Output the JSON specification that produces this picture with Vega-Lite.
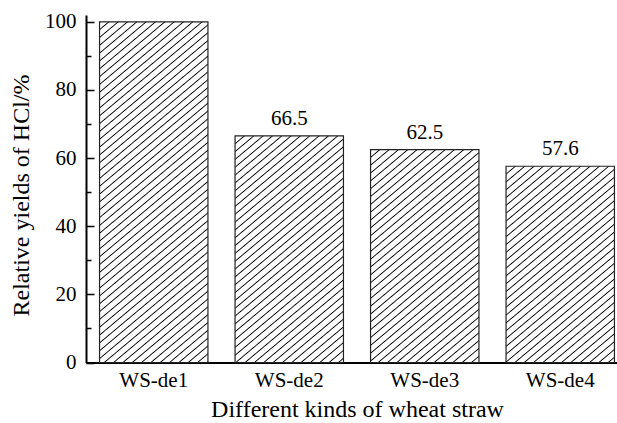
{
 "$schema": "https://vega.github.io/schema/vega-lite/v6.json",
 "width": 531, "height": 347.5,
 "autosize": {"type": "none"},
 "padding": {"left": 86, "top": 15, "right": 0, "bottom": 60.5},
 "background": "white",
 "config": {"view": {"stroke": null}, "font": "Liberation Serif",
   "axis": {"labelFont": "Liberation Serif", "titleFont": "Liberation Serif"},
   "text": {"font": "Liberation Serif"}},
 "data": {"values": [
   {"kind": "WS-de1", "yield": 100},
   {"kind": "WS-de2", "yield": 66.5},
   {"kind": "WS-de3", "yield": 62.5},
   {"kind": "WS-de4", "yield": 57.6}
 ]},
 "resolve": {"axis": {"y": "independent"}},
 "encoding": {
   "x": {"field": "kind", "type": "nominal", "sort": null,
     "scale": {"range": [0, 542], "paddingInner": 0.2, "paddingOuter": 0.1},
     "axis": {"title": "Different kinds of wheat straw", "labelAngle": 0, "labelFontSize": 21, "labelColor": "#000", "labelPadding": 7, "tickSize": 0, "domainColor": "#000", "domainWidth": 2, "titleFontSize": 24, "titleFontWeight": "normal", "titleColor": "#000", "titlePadding": 7}}
 },
 "layer": [
   {"mark": {"type": "bar", "stroke": "#222", "strokeWidth": 1.2},
    "encoding": {
     "y": {"field": "yield", "type": "quantitative",
       "scale": {"domain": [0, 102], "nice": false},
       "axis": {"title": "Relative yields of HCl/%", "values": [0,20,40,60,80,100], "grid": false,
         "tickSize": -8, "tickColor": "#000", "tickWidth": 1.5, "domainColor": "#000", "domainWidth": 2,
         "labelFontSize": 21, "labelColor": "#000", "labelPadding": 18,
         "titleFontSize": 24, "titleFontWeight": "normal", "titleColor": "#000", "titlePadding": 11, "titleY": 180}},
     "fill": {"condition": [
      {"test": "datum.kind === 'WS-de1'", "value": {"gradient": "linear", "x1": 0, "y1": 0, "x2": 0.5731, "y2": 2.1459, "stops": [
{"offset":0,"color":"#fff"},
{"offset":0.0085,"color":"#fff"},{"offset":0.01,"color":"#000"},{"offset":0.0115,"color":"#fff"},
{"offset":0.0185,"color":"#fff"},{"offset":0.02,"color":"#000"},{"offset":0.0215,"color":"#fff"},
{"offset":0.0285,"color":"#fff"},{"offset":0.03,"color":"#000"},{"offset":0.0315,"color":"#fff"},
{"offset":0.0385,"color":"#fff"},{"offset":0.04,"color":"#000"},{"offset":0.0415,"color":"#fff"},
{"offset":0.0485,"color":"#fff"},{"offset":0.05,"color":"#000"},{"offset":0.0515,"color":"#fff"},
{"offset":0.0585,"color":"#fff"},{"offset":0.06,"color":"#000"},{"offset":0.0615,"color":"#fff"},
{"offset":0.0685,"color":"#fff"},{"offset":0.07,"color":"#000"},{"offset":0.0715,"color":"#fff"},
{"offset":0.0785,"color":"#fff"},{"offset":0.08,"color":"#000"},{"offset":0.0815,"color":"#fff"},
{"offset":0.0885,"color":"#fff"},{"offset":0.09,"color":"#000"},{"offset":0.0915,"color":"#fff"},
{"offset":0.0985,"color":"#fff"},{"offset":0.10,"color":"#000"},{"offset":0.1015,"color":"#fff"},
{"offset":0.1085,"color":"#fff"},{"offset":0.11,"color":"#000"},{"offset":0.1115,"color":"#fff"},
{"offset":0.1185,"color":"#fff"},{"offset":0.12,"color":"#000"},{"offset":0.1215,"color":"#fff"},
{"offset":0.1285,"color":"#fff"},{"offset":0.13,"color":"#000"},{"offset":0.1315,"color":"#fff"},
{"offset":0.1385,"color":"#fff"},{"offset":0.14,"color":"#000"},{"offset":0.1415,"color":"#fff"},
{"offset":0.1485,"color":"#fff"},{"offset":0.15,"color":"#000"},{"offset":0.1515,"color":"#fff"},
{"offset":0.1585,"color":"#fff"},{"offset":0.16,"color":"#000"},{"offset":0.1615,"color":"#fff"},
{"offset":0.1685,"color":"#fff"},{"offset":0.17,"color":"#000"},{"offset":0.1715,"color":"#fff"},
{"offset":0.1785,"color":"#fff"},{"offset":0.18,"color":"#000"},{"offset":0.1815,"color":"#fff"},
{"offset":0.1885,"color":"#fff"},{"offset":0.19,"color":"#000"},{"offset":0.1915,"color":"#fff"},
{"offset":0.1985,"color":"#fff"},{"offset":0.20,"color":"#000"},{"offset":0.2015,"color":"#fff"},
{"offset":0.2085,"color":"#fff"},{"offset":0.21,"color":"#000"},{"offset":0.2115,"color":"#fff"},
{"offset":0.2185,"color":"#fff"},{"offset":0.22,"color":"#000"},{"offset":0.2215,"color":"#fff"},
{"offset":0.2285,"color":"#fff"},{"offset":0.23,"color":"#000"},{"offset":0.2315,"color":"#fff"},
{"offset":0.2385,"color":"#fff"},{"offset":0.24,"color":"#000"},{"offset":0.2415,"color":"#fff"},
{"offset":0.2485,"color":"#fff"},{"offset":0.25,"color":"#000"},{"offset":0.2515,"color":"#fff"},
{"offset":0.2585,"color":"#fff"},{"offset":0.26,"color":"#000"},{"offset":0.2615,"color":"#fff"},
{"offset":0.2685,"color":"#fff"},{"offset":0.27,"color":"#000"},{"offset":0.2715,"color":"#fff"},
{"offset":0.2785,"color":"#fff"},{"offset":0.28,"color":"#000"},{"offset":0.2815,"color":"#fff"},
{"offset":0.2885,"color":"#fff"},{"offset":0.29,"color":"#000"},{"offset":0.2915,"color":"#fff"},
{"offset":0.2985,"color":"#fff"},{"offset":0.30,"color":"#000"},{"offset":0.3015,"color":"#fff"},
{"offset":0.3085,"color":"#fff"},{"offset":0.31,"color":"#000"},{"offset":0.3115,"color":"#fff"},
{"offset":0.3185,"color":"#fff"},{"offset":0.32,"color":"#000"},{"offset":0.3215,"color":"#fff"},
{"offset":0.3285,"color":"#fff"},{"offset":0.33,"color":"#000"},{"offset":0.3315,"color":"#fff"},
{"offset":0.3385,"color":"#fff"},{"offset":0.34,"color":"#000"},{"offset":0.3415,"color":"#fff"},
{"offset":0.3485,"color":"#fff"},{"offset":0.35,"color":"#000"},{"offset":0.3515,"color":"#fff"},
{"offset":0.3585,"color":"#fff"},{"offset":0.36,"color":"#000"},{"offset":0.3615,"color":"#fff"},
{"offset":0.3685,"color":"#fff"},{"offset":0.37,"color":"#000"},{"offset":0.3715,"color":"#fff"},
{"offset":0.3785,"color":"#fff"},{"offset":0.38,"color":"#000"},{"offset":0.3815,"color":"#fff"},
{"offset":0.3885,"color":"#fff"},{"offset":0.39,"color":"#000"},{"offset":0.3915,"color":"#fff"},
{"offset":0.3985,"color":"#fff"},{"offset":0.40,"color":"#000"},{"offset":0.4015,"color":"#fff"},
{"offset":0.4085,"color":"#fff"},{"offset":0.41,"color":"#000"},{"offset":0.4115,"color":"#fff"},
{"offset":0.4185,"color":"#fff"},{"offset":0.42,"color":"#000"},{"offset":0.4215,"color":"#fff"},
{"offset":0.4285,"color":"#fff"},{"offset":0.43,"color":"#000"},{"offset":0.4315,"color":"#fff"},
{"offset":0.4385,"color":"#fff"},{"offset":0.44,"color":"#000"},{"offset":0.4415,"color":"#fff"},
{"offset":0.4485,"color":"#fff"},{"offset":0.45,"color":"#000"},{"offset":0.4515,"color":"#fff"},
{"offset":0.4585,"color":"#fff"},{"offset":0.46,"color":"#000"},{"offset":0.4615,"color":"#fff"},
{"offset":0.4685,"color":"#fff"},{"offset":0.47,"color":"#000"},{"offset":0.4715,"color":"#fff"},
{"offset":0.4785,"color":"#fff"},{"offset":0.48,"color":"#000"},{"offset":0.4815,"color":"#fff"},
{"offset":0.4885,"color":"#fff"},{"offset":0.49,"color":"#000"},{"offset":0.4915,"color":"#fff"},
{"offset":0.4985,"color":"#fff"},{"offset":0.50,"color":"#000"},{"offset":0.5015,"color":"#fff"},
{"offset":0.5085,"color":"#fff"},{"offset":0.51,"color":"#000"},{"offset":0.5115,"color":"#fff"},
{"offset":0.5185,"color":"#fff"},{"offset":0.52,"color":"#000"},{"offset":0.5215,"color":"#fff"},
{"offset":0.5285,"color":"#fff"},{"offset":0.53,"color":"#000"},{"offset":0.5315,"color":"#fff"},
{"offset":0.5385,"color":"#fff"},{"offset":0.54,"color":"#000"},{"offset":0.5415,"color":"#fff"},
{"offset":0.5485,"color":"#fff"},{"offset":0.55,"color":"#000"},{"offset":0.5515,"color":"#fff"},
{"offset":1,"color":"#fff"}]}},
      {"test": "datum.kind === 'WS-de2'", "value": {"gradient": "linear", "x1": 0, "y1": 0, "x2": 1.1956, "y2": 2.9770, "stops": [
{"offset":0,"color":"#fff"},
{"offset":0.0085,"color":"#fff"},{"offset":0.01,"color":"#000"},{"offset":0.0115,"color":"#fff"},
{"offset":0.0185,"color":"#fff"},{"offset":0.02,"color":"#000"},{"offset":0.0215,"color":"#fff"},
{"offset":0.0285,"color":"#fff"},{"offset":0.03,"color":"#000"},{"offset":0.0315,"color":"#fff"},
{"offset":0.0385,"color":"#fff"},{"offset":0.04,"color":"#000"},{"offset":0.0415,"color":"#fff"},
{"offset":0.0485,"color":"#fff"},{"offset":0.05,"color":"#000"},{"offset":0.0515,"color":"#fff"},
{"offset":0.0585,"color":"#fff"},{"offset":0.06,"color":"#000"},{"offset":0.0615,"color":"#fff"},
{"offset":0.0685,"color":"#fff"},{"offset":0.07,"color":"#000"},{"offset":0.0715,"color":"#fff"},
{"offset":0.0785,"color":"#fff"},{"offset":0.08,"color":"#000"},{"offset":0.0815,"color":"#fff"},
{"offset":0.0885,"color":"#fff"},{"offset":0.09,"color":"#000"},{"offset":0.0915,"color":"#fff"},
{"offset":0.0985,"color":"#fff"},{"offset":0.10,"color":"#000"},{"offset":0.1015,"color":"#fff"},
{"offset":0.1085,"color":"#fff"},{"offset":0.11,"color":"#000"},{"offset":0.1115,"color":"#fff"},
{"offset":0.1185,"color":"#fff"},{"offset":0.12,"color":"#000"},{"offset":0.1215,"color":"#fff"},
{"offset":0.1285,"color":"#fff"},{"offset":0.13,"color":"#000"},{"offset":0.1315,"color":"#fff"},
{"offset":0.1385,"color":"#fff"},{"offset":0.14,"color":"#000"},{"offset":0.1415,"color":"#fff"},
{"offset":0.1485,"color":"#fff"},{"offset":0.15,"color":"#000"},{"offset":0.1515,"color":"#fff"},
{"offset":0.1585,"color":"#fff"},{"offset":0.16,"color":"#000"},{"offset":0.1615,"color":"#fff"},
{"offset":0.1685,"color":"#fff"},{"offset":0.17,"color":"#000"},{"offset":0.1715,"color":"#fff"},
{"offset":0.1785,"color":"#fff"},{"offset":0.18,"color":"#000"},{"offset":0.1815,"color":"#fff"},
{"offset":0.1885,"color":"#fff"},{"offset":0.19,"color":"#000"},{"offset":0.1915,"color":"#fff"},
{"offset":0.1985,"color":"#fff"},{"offset":0.20,"color":"#000"},{"offset":0.2015,"color":"#fff"},
{"offset":0.2085,"color":"#fff"},{"offset":0.21,"color":"#000"},{"offset":0.2115,"color":"#fff"},
{"offset":0.2185,"color":"#fff"},{"offset":0.22,"color":"#000"},{"offset":0.2215,"color":"#fff"},
{"offset":0.2285,"color":"#fff"},{"offset":0.23,"color":"#000"},{"offset":0.2315,"color":"#fff"},
{"offset":0.2385,"color":"#fff"},{"offset":0.24,"color":"#000"},{"offset":0.2415,"color":"#fff"},
{"offset":0.2485,"color":"#fff"},{"offset":0.25,"color":"#000"},{"offset":0.2515,"color":"#fff"},
{"offset":0.2585,"color":"#fff"},{"offset":0.26,"color":"#000"},{"offset":0.2615,"color":"#fff"},
{"offset":0.2685,"color":"#fff"},{"offset":0.27,"color":"#000"},{"offset":0.2715,"color":"#fff"},
{"offset":0.2785,"color":"#fff"},{"offset":0.28,"color":"#000"},{"offset":0.2815,"color":"#fff"},
{"offset":0.2885,"color":"#fff"},{"offset":0.29,"color":"#000"},{"offset":0.2915,"color":"#fff"},
{"offset":0.2985,"color":"#fff"},{"offset":0.30,"color":"#000"},{"offset":0.3015,"color":"#fff"},
{"offset":0.3085,"color":"#fff"},{"offset":0.31,"color":"#000"},{"offset":0.3115,"color":"#fff"},
{"offset":0.3185,"color":"#fff"},{"offset":0.32,"color":"#000"},{"offset":0.3215,"color":"#fff"},
{"offset":0.3285,"color":"#fff"},{"offset":0.33,"color":"#000"},{"offset":0.3315,"color":"#fff"},
{"offset":0.3385,"color":"#fff"},{"offset":0.34,"color":"#000"},{"offset":0.3415,"color":"#fff"},
{"offset":0.3485,"color":"#fff"},{"offset":0.35,"color":"#000"},{"offset":0.3515,"color":"#fff"},
{"offset":0.3585,"color":"#fff"},{"offset":0.36,"color":"#000"},{"offset":0.3615,"color":"#fff"},
{"offset":0.3685,"color":"#fff"},{"offset":0.37,"color":"#000"},{"offset":0.3715,"color":"#fff"},
{"offset":0.3785,"color":"#fff"},{"offset":0.38,"color":"#000"},{"offset":0.3815,"color":"#fff"},
{"offset":0.3885,"color":"#fff"},{"offset":0.39,"color":"#000"},{"offset":0.3915,"color":"#fff"},
{"offset":0.3985,"color":"#fff"},{"offset":0.40,"color":"#000"},{"offset":0.4015,"color":"#fff"},
{"offset":0.4085,"color":"#fff"},{"offset":0.41,"color":"#000"},{"offset":0.4115,"color":"#fff"},
{"offset":1,"color":"#fff"}]}},
      {"test": "datum.kind === 'WS-de3'", "value": {"gradient": "linear", "x1": 0, "y1": 0, "x2": 1.3293, "y2": 3.1106, "stops": [
{"offset":0,"color":"#fff"},
{"offset":0.0085,"color":"#fff"},{"offset":0.01,"color":"#000"},{"offset":0.0115,"color":"#fff"},
{"offset":0.0185,"color":"#fff"},{"offset":0.02,"color":"#000"},{"offset":0.0215,"color":"#fff"},
{"offset":0.0285,"color":"#fff"},{"offset":0.03,"color":"#000"},{"offset":0.0315,"color":"#fff"},
{"offset":0.0385,"color":"#fff"},{"offset":0.04,"color":"#000"},{"offset":0.0415,"color":"#fff"},
{"offset":0.0485,"color":"#fff"},{"offset":0.05,"color":"#000"},{"offset":0.0515,"color":"#fff"},
{"offset":0.0585,"color":"#fff"},{"offset":0.06,"color":"#000"},{"offset":0.0615,"color":"#fff"},
{"offset":0.0685,"color":"#fff"},{"offset":0.07,"color":"#000"},{"offset":0.0715,"color":"#fff"},
{"offset":0.0785,"color":"#fff"},{"offset":0.08,"color":"#000"},{"offset":0.0815,"color":"#fff"},
{"offset":0.0885,"color":"#fff"},{"offset":0.09,"color":"#000"},{"offset":0.0915,"color":"#fff"},
{"offset":0.0985,"color":"#fff"},{"offset":0.10,"color":"#000"},{"offset":0.1015,"color":"#fff"},
{"offset":0.1085,"color":"#fff"},{"offset":0.11,"color":"#000"},{"offset":0.1115,"color":"#fff"},
{"offset":0.1185,"color":"#fff"},{"offset":0.12,"color":"#000"},{"offset":0.1215,"color":"#fff"},
{"offset":0.1285,"color":"#fff"},{"offset":0.13,"color":"#000"},{"offset":0.1315,"color":"#fff"},
{"offset":0.1385,"color":"#fff"},{"offset":0.14,"color":"#000"},{"offset":0.1415,"color":"#fff"},
{"offset":0.1485,"color":"#fff"},{"offset":0.15,"color":"#000"},{"offset":0.1515,"color":"#fff"},
{"offset":0.1585,"color":"#fff"},{"offset":0.16,"color":"#000"},{"offset":0.1615,"color":"#fff"},
{"offset":0.1685,"color":"#fff"},{"offset":0.17,"color":"#000"},{"offset":0.1715,"color":"#fff"},
{"offset":0.1785,"color":"#fff"},{"offset":0.18,"color":"#000"},{"offset":0.1815,"color":"#fff"},
{"offset":0.1885,"color":"#fff"},{"offset":0.19,"color":"#000"},{"offset":0.1915,"color":"#fff"},
{"offset":0.1985,"color":"#fff"},{"offset":0.20,"color":"#000"},{"offset":0.2015,"color":"#fff"},
{"offset":0.2085,"color":"#fff"},{"offset":0.21,"color":"#000"},{"offset":0.2115,"color":"#fff"},
{"offset":0.2185,"color":"#fff"},{"offset":0.22,"color":"#000"},{"offset":0.2215,"color":"#fff"},
{"offset":0.2285,"color":"#fff"},{"offset":0.23,"color":"#000"},{"offset":0.2315,"color":"#fff"},
{"offset":0.2385,"color":"#fff"},{"offset":0.24,"color":"#000"},{"offset":0.2415,"color":"#fff"},
{"offset":0.2485,"color":"#fff"},{"offset":0.25,"color":"#000"},{"offset":0.2515,"color":"#fff"},
{"offset":0.2585,"color":"#fff"},{"offset":0.26,"color":"#000"},{"offset":0.2615,"color":"#fff"},
{"offset":0.2685,"color":"#fff"},{"offset":0.27,"color":"#000"},{"offset":0.2715,"color":"#fff"},
{"offset":0.2785,"color":"#fff"},{"offset":0.28,"color":"#000"},{"offset":0.2815,"color":"#fff"},
{"offset":0.2885,"color":"#fff"},{"offset":0.29,"color":"#000"},{"offset":0.2915,"color":"#fff"},
{"offset":0.2985,"color":"#fff"},{"offset":0.30,"color":"#000"},{"offset":0.3015,"color":"#fff"},
{"offset":0.3085,"color":"#fff"},{"offset":0.31,"color":"#000"},{"offset":0.3115,"color":"#fff"},
{"offset":0.3185,"color":"#fff"},{"offset":0.32,"color":"#000"},{"offset":0.3215,"color":"#fff"},
{"offset":0.3285,"color":"#fff"},{"offset":0.33,"color":"#000"},{"offset":0.3315,"color":"#fff"},
{"offset":0.3385,"color":"#fff"},{"offset":0.34,"color":"#000"},{"offset":0.3415,"color":"#fff"},
{"offset":0.3485,"color":"#fff"},{"offset":0.35,"color":"#000"},{"offset":0.3515,"color":"#fff"},
{"offset":0.3585,"color":"#fff"},{"offset":0.36,"color":"#000"},{"offset":0.3615,"color":"#fff"},
{"offset":0.3685,"color":"#fff"},{"offset":0.37,"color":"#000"},{"offset":0.3715,"color":"#fff"},
{"offset":0.3785,"color":"#fff"},{"offset":0.38,"color":"#000"},{"offset":0.3815,"color":"#fff"},
{"offset":0.3885,"color":"#fff"},{"offset":0.39,"color":"#000"},{"offset":0.3915,"color":"#fff"},
{"offset":1,"color":"#fff"}]}},
      {"test": "datum.kind === 'WS-de4'", "value": {"gradient": "linear", "x1": 0, "y1": 0, "x2": 1.5233, "y2": 3.2852, "stops": [
{"offset":0,"color":"#fff"},
{"offset":0.0085,"color":"#fff"},{"offset":0.01,"color":"#000"},{"offset":0.0115,"color":"#fff"},
{"offset":0.0185,"color":"#fff"},{"offset":0.02,"color":"#000"},{"offset":0.0215,"color":"#fff"},
{"offset":0.0285,"color":"#fff"},{"offset":0.03,"color":"#000"},{"offset":0.0315,"color":"#fff"},
{"offset":0.0385,"color":"#fff"},{"offset":0.04,"color":"#000"},{"offset":0.0415,"color":"#fff"},
{"offset":0.0485,"color":"#fff"},{"offset":0.05,"color":"#000"},{"offset":0.0515,"color":"#fff"},
{"offset":0.0585,"color":"#fff"},{"offset":0.06,"color":"#000"},{"offset":0.0615,"color":"#fff"},
{"offset":0.0685,"color":"#fff"},{"offset":0.07,"color":"#000"},{"offset":0.0715,"color":"#fff"},
{"offset":0.0785,"color":"#fff"},{"offset":0.08,"color":"#000"},{"offset":0.0815,"color":"#fff"},
{"offset":0.0885,"color":"#fff"},{"offset":0.09,"color":"#000"},{"offset":0.0915,"color":"#fff"},
{"offset":0.0985,"color":"#fff"},{"offset":0.10,"color":"#000"},{"offset":0.1015,"color":"#fff"},
{"offset":0.1085,"color":"#fff"},{"offset":0.11,"color":"#000"},{"offset":0.1115,"color":"#fff"},
{"offset":0.1185,"color":"#fff"},{"offset":0.12,"color":"#000"},{"offset":0.1215,"color":"#fff"},
{"offset":0.1285,"color":"#fff"},{"offset":0.13,"color":"#000"},{"offset":0.1315,"color":"#fff"},
{"offset":0.1385,"color":"#fff"},{"offset":0.14,"color":"#000"},{"offset":0.1415,"color":"#fff"},
{"offset":0.1485,"color":"#fff"},{"offset":0.15,"color":"#000"},{"offset":0.1515,"color":"#fff"},
{"offset":0.1585,"color":"#fff"},{"offset":0.16,"color":"#000"},{"offset":0.1615,"color":"#fff"},
{"offset":0.1685,"color":"#fff"},{"offset":0.17,"color":"#000"},{"offset":0.1715,"color":"#fff"},
{"offset":0.1785,"color":"#fff"},{"offset":0.18,"color":"#000"},{"offset":0.1815,"color":"#fff"},
{"offset":0.1885,"color":"#fff"},{"offset":0.19,"color":"#000"},{"offset":0.1915,"color":"#fff"},
{"offset":0.1985,"color":"#fff"},{"offset":0.20,"color":"#000"},{"offset":0.2015,"color":"#fff"},
{"offset":0.2085,"color":"#fff"},{"offset":0.21,"color":"#000"},{"offset":0.2115,"color":"#fff"},
{"offset":0.2185,"color":"#fff"},{"offset":0.22,"color":"#000"},{"offset":0.2215,"color":"#fff"},
{"offset":0.2285,"color":"#fff"},{"offset":0.23,"color":"#000"},{"offset":0.2315,"color":"#fff"},
{"offset":0.2385,"color":"#fff"},{"offset":0.24,"color":"#000"},{"offset":0.2415,"color":"#fff"},
{"offset":0.2485,"color":"#fff"},{"offset":0.25,"color":"#000"},{"offset":0.2515,"color":"#fff"},
{"offset":0.2585,"color":"#fff"},{"offset":0.26,"color":"#000"},{"offset":0.2615,"color":"#fff"},
{"offset":0.2685,"color":"#fff"},{"offset":0.27,"color":"#000"},{"offset":0.2715,"color":"#fff"},
{"offset":0.2785,"color":"#fff"},{"offset":0.28,"color":"#000"},{"offset":0.2815,"color":"#fff"},
{"offset":0.2885,"color":"#fff"},{"offset":0.29,"color":"#000"},{"offset":0.2915,"color":"#fff"},
{"offset":0.2985,"color":"#fff"},{"offset":0.30,"color":"#000"},{"offset":0.3015,"color":"#fff"},
{"offset":0.3085,"color":"#fff"},{"offset":0.31,"color":"#000"},{"offset":0.3115,"color":"#fff"},
{"offset":0.3185,"color":"#fff"},{"offset":0.32,"color":"#000"},{"offset":0.3215,"color":"#fff"},
{"offset":0.3285,"color":"#fff"},{"offset":0.33,"color":"#000"},{"offset":0.3315,"color":"#fff"},
{"offset":0.3385,"color":"#fff"},{"offset":0.34,"color":"#000"},{"offset":0.3415,"color":"#fff"},
{"offset":0.3485,"color":"#fff"},{"offset":0.35,"color":"#000"},{"offset":0.3515,"color":"#fff"},
{"offset":0.3585,"color":"#fff"},{"offset":0.36,"color":"#000"},{"offset":0.3615,"color":"#fff"},
{"offset":0.3685,"color":"#fff"},{"offset":0.37,"color":"#000"},{"offset":0.3715,"color":"#fff"},
{"offset":1,"color":"#fff"}]}}
    ], "value": "#fff"}}},
   {"transform": [{"filter": "datum.kind !== 'WS-de1'"}],
    "mark": {"type": "text", "baseline": "bottom", "dy": -7, "fontSize": 21, "font": "Liberation Serif", "color": "#000"},
    "encoding": {
     "y": {"field": "yield", "type": "quantitative",
       "axis": {"orient": "right", "offset": -531, "values": [10,30,50,70,90], "labels": false, "domain": false, "grid": false, "title": null, "tickSize": 5, "tickColor": "#000", "tickWidth": 1.5}},
     "text": {"field": "yield", "type": "quantitative", "format": ".1f"}}}
 ]
}
